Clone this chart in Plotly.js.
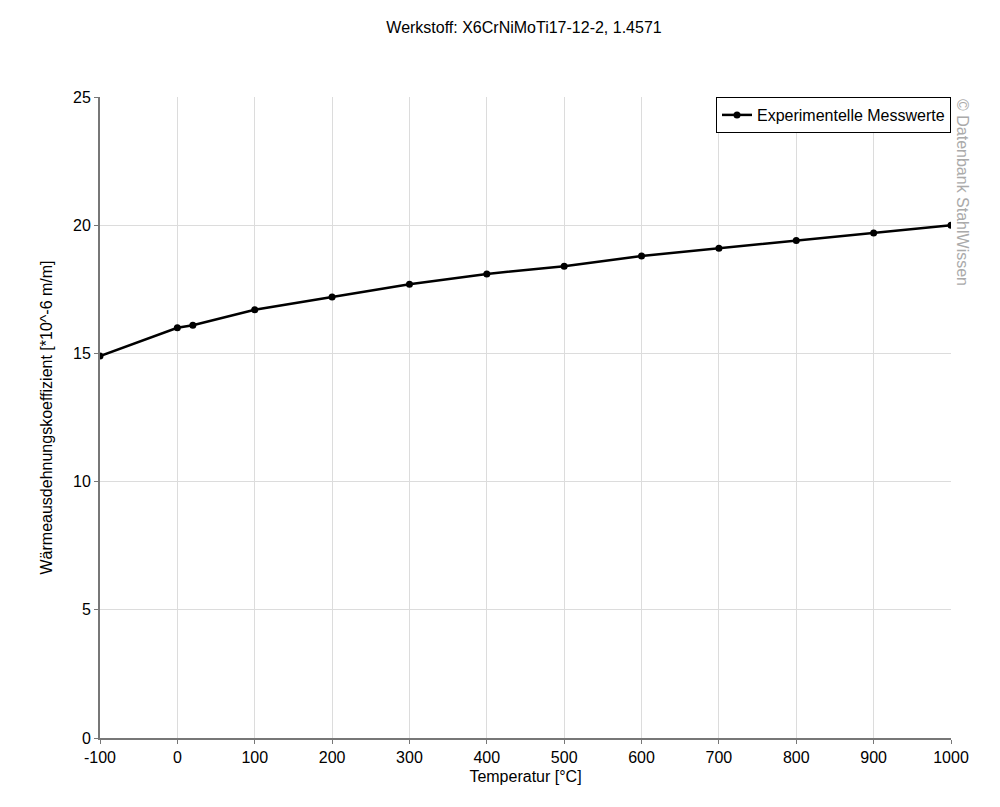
<!DOCTYPE html>
<html><head><meta charset="utf-8">
<script src="https://cdn.plot.ly/plotly-3.0.1.min.js"></script>
<style>html,body{margin:0;padding:0;background:#fff}#chart{width:1000px;height:807px}</style>
</head><body><div id="chart"></div>
<script>
const temperature = [-100, 0, 20, 100, 200, 300, 400, 500, 600, 700, 800, 900, 1000];
const coefficient = [14.9, 16.0, 16.1, 16.7, 17.2, 17.7, 18.1, 18.4, 18.8, 19.1, 19.4, 19.7, 20.0];
const xTicks = [-100, 0, 100, 200, 300, 400, 500, 600, 700, 800, 900, 1000];
const yTicks = [0, 5, 10, 15, 20, 25];

const font = "Liberation Sans, Arial, sans-serif";
const trace = {
  x: temperature, y: coefficient, type: 'scatter', mode: 'lines+markers',
  name: 'Experimentelle Messwerte',
  line: {color: '#000', width: 2.5},
  marker: {color: '#000', size: 7}
};
const layout = {
  width: 1000, height: 807,
  margin: {l: 100, r: 49, t: 97, b: 69},
  paper_bgcolor: '#fff', plot_bgcolor: '#fff',
  font: {family: font, size: 16, color: '#000'},
  title: {text: 'Werkstoff: X6CrNiMoTi17-12-2, 1.4571', x: 0.524, xanchor: 'center', y: 0.966, yanchor: 'middle', font: {size: 16, family: font}},
  xaxis: {
    range: [-100, 1000], tickvals: xTicks, ticktext: xTicks.map(String),
    showgrid: true, gridcolor: '#dcdcdc', gridwidth: 1,
    showline: true, linecolor: '#777', linewidth: 2,
    ticks: 'outside', ticklen: 4, tickcolor: '#777',
    zeroline: false, tickfont: {size: 16},
    title: {text: 'Temperatur [°C]', standoff: 6, font: {size: 16}}
  },
  yaxis: {
    range: [0, 25], tickvals: yTicks,
    showgrid: true, gridcolor: '#dcdcdc', gridwidth: 1,
    showline: true, linecolor: '#777', linewidth: 2,
    ticks: 'outside', ticklen: 4, tickcolor: '#777',
    zeroline: false, tickfont: {size: 16},
    title: {text: 'Wärmeausdehnungskoeffizient [*10^-6 m/m]', standoff: 16, font: {size: 16}}
  },
  showlegend: true,
  legend: {x: 1, xanchor: 'right', y: 1, yanchor: 'top', bordercolor: '#000', borderwidth: 1, bgcolor: '#fff', itemwidth: 30, font: {size: 16}},
  annotations: [{
    text: '© Datenbank StahlWissen', xref: 'paper', yref: 'paper', x: 1, y: 1,
    xanchor: 'left', yanchor: 'top', xshift: 1, textangle: 90, showarrow: false,
    font: {size: 16, color: '#aaa', family: font}
  }]
};
Plotly.newPlot('chart', [trace], layout, {displayModeBar: false, staticPlot: true});
</script></body></html>
